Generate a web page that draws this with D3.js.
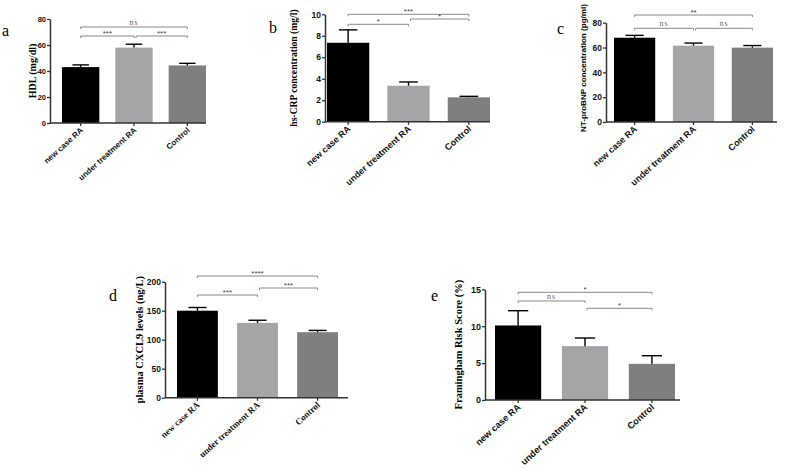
<!DOCTYPE html>
<html>
<head>
<meta charset="utf-8">
<script src="https://cdn.jsdelivr.net/npm/d3@7"></script>
<style>
body { margin: 0; background: #fff; }
svg { display: block; }
</style>
</head>
<body>
<svg width="789" height="470"></svg>
<script>
// data
var groups = ["new case RA", "under treatment RA", "Control"];

var hdlMean = [43, 58, 44.3], hdlErr = [1.7, 2.6, 1.6];
var crpMean = [7.35, 3.35, 2.27], crpErr = [1.2, 0.35, 0.09];
var bnpMean = [67.9, 61.5, 59.9], bnpErr = [1.9, 2.1, 1.7];
var cxclMean = [150, 129, 113], cxclErr = [5.5, 4.5, 3];
var frsMean = [10.1, 7.3, 4.9], frsErr = [2.0, 1.1, 1.1];

var hdlTicks = [0, 20, 40, 60, 80];
var crpTicks = [0, 2, 4, 6, 8, 10];
var bnpTicks = [0, 20, 40, 60, 80];
var cxclTicks = [0, 50, 100, 150, 200];
var frsTicks = [0, 5, 10, 15];

// significance brackets: from group, to group, label
var hdlSig = [[0, 2, "ns"], [0, 1, "***"], [1, 2, "***"]];
var crpSig = [[0, 2, "***"], [0, 1, "*"], [1, 2, "*"]];
var bnpSig = [[0, 2, "**"], [0, 1, "ns"], [1, 2, "ns"]];
var cxclSig = [[0, 2, "****"], [0, 1, "***"], [1, 2, "***"]];
var frsSig = [[0, 2, "*"], [0, 1, "ns"], [1, 2, "*"]];

var barColors = ["#000000", "#a5a5a8", "#7f7f7f"];
var SANS = "'Liberation Sans', Arial, sans-serif";
var SERIF = "'Liberation Serif', 'Times New Roman', serif";

var svg = d3.select("svg");

function drawPanel(p) {
  var g = svg.append("g");

  var x = d3.scaleBand().domain(groups).range([p.bandL, p.bandR])
    .paddingInner(p.pad).paddingOuter(0);
  var y = d3.scaleLinear().domain([0, p.max]).range([p.yBot, p.yTop]);

  // bars
  g.selectAll(".bar")
    .data(p.mean)
    .enter().append("rect")
    .attr("x", function(d, i) { return x(groups[i]); })
    .attr("y", function(d) { return y(d); })
    .attr("width", x.bandwidth())
    .attr("height", function(d) { return p.yBot - y(d); })
    .attr("fill", function(d, i) { return barColors[i]; });

  // error bars (upper only)
  var cap = x.bandwidth() * 0.22;
  p.mean.forEach(function(m, i) {
    var cx = x(groups[i]) + x.bandwidth() / 2;
    g.append("line").attr("x1", cx).attr("x2", cx)
      .attr("y1", y(m)).attr("y2", y(m + p.err[i]))
      .attr("stroke", "#000").attr("stroke-width", 1.4);
    g.append("line").attr("x1", cx - cap).attr("x2", cx + cap)
      .attr("y1", y(m + p.err[i])).attr("y2", y(m + p.err[i]))
      .attr("stroke", "#000").attr("stroke-width", 1.4);
  });

  // y axis
  var ya = g.append("g")
    .attr("transform", "translate(" + p.x0 + ",0)")
    .call(d3.axisLeft(y).tickValues(p.ticks).tickSize(3).tickSizeOuter(0).tickPadding(1));
  ya.select(".domain").attr("stroke", "#333").attr("stroke-width", 1.5);
  ya.selectAll(".tick line").attr("stroke", "#333").attr("stroke-width", 1.3);
  ya.selectAll("text")
    .style("font-family", SANS).style("font-weight", "bold")
    .style("font-size", p.tickFont + "px").attr("fill", "#111");

  // x axis
  var xa = g.append("g")
    .attr("transform", "translate(0," + p.yBot + ")")
    .call(d3.axisBottom(x).tickSize(3).tickSizeOuter(0));
  xa.select(".domain").remove();
  xa.append("line").attr("x1", p.x0).attr("x2", p.x1)
    .attr("stroke", "#333").attr("stroke-width", 1.5);
  xa.selectAll(".tick line").attr("stroke", "#333").attr("stroke-width", 1.3);
  xa.selectAll("text")
    .attr("y", 0).attr("dy", 0)
    .attr("transform", "translate(3,8) rotate(-42)")
    .style("text-anchor", "end")
    .style("font-family", p.xSerif ? SERIF : SANS)
    .style("font-weight", "bold")
    .style("font-size", p.xFont + "px")
    .attr("fill", "#111");

  // y label, centred on the axis unless told otherwise
  var ylabY = p.ylabY !== undefined ? p.ylabY : (p.yTop + p.yBot) / 2;
  g.append("text")
    .attr("transform", "translate(" + p.ylabX + "," + ylabY + ") rotate(-90)")
    .attr("text-anchor", "middle")
    .style("font-family", p.ylabSerif ? SERIF : SANS)
    .style("font-weight", "bold")
    .style("font-size", p.ylabFont + "px")
    .text(p.ylabel);

  // panel letter
  g.append("text")
    .attr("x", p.letX).attr("y", p.letY)
    .style("font-family", SERIF)
    .style("font-size", "16px")
    .text(p.letter);

  // significance brackets
  p.sig.forEach(function(s, k) {
    var xa0 = x(groups[s[0]]) + x.bandwidth() / 2 + (s[0] > 0 ? 2 : 0);
    var xb0 = x(groups[s[1]]) + x.bandwidth() / 2;
    var yy = p.sigY[k];
    g.append("path")
      .attr("d", "M" + xa0 + "," + (yy + 2) + "V" + yy + "H" + xb0 + "V" + (yy + 2))
      .attr("fill", "none").attr("stroke", "#8a8a8a").attr("stroke-width", 1);
    var isNs = s[2] === "ns";
    g.append("text")
      .attr("x", (xa0 + xb0) / 2).attr("y", yy - (isNs ? 2 : 0))
      .attr("text-anchor", "middle")
      .style("font-family", isNs ? SERIF : SANS)
      .style("font-size", "8px")
      .style("letter-spacing", isNs ? "1px" : "0px")
      .attr("fill", isNs ? "#666" : "#444")
      .text(s[2]);
  });
}

drawPanel({ mean: hdlMean, err: hdlErr, ticks: hdlTicks, max: 80, sig: hdlSig,
  x0: 50, x1: 206, bandL: 62, bandR: 206, pad: 0.3, yTop: 19, yBot: 123,
  sigY: [27, 36, 36], tickFont: 7.5, xFont: 8, xSerif: false,
  ylabel: "HDL (mg/dl)", ylabX: 36, ylabFont: 10, ylabSerif: true,
  letter: "a", letX: 2, letY: 36 });

drawPanel({ mean: crpMean, err: crpErr, ticks: crpTicks, max: 10, sig: crpSig,
  x0: 325, x1: 490, bandL: 327, bandR: 490, pad: 0.3, yTop: 14.3, yBot: 121.7,
  sigY: [14.3, 24.3, 19], tickFont: 8.5, xFont: 9, xSerif: false,
  ylabel: "hs-CRP concentration (mg/l)", ylabX: 297, ylabFont: 9.6, ylabSerif: true,
  letter: "b", letX: 269, letY: 33 });

drawPanel({ mean: bnpMean, err: bnpErr, ticks: bnpTicks, max: 80, sig: bnpSig,
  x0: 606, x1: 777, bandL: 614, bandR: 773, pad: 0.3, yTop: 22.7, yBot: 122,
  sigY: [15, 28.3, 28.3], tickFont: 8.5, xFont: 9, xSerif: false,
  ylabel: "NT-proBNP concentration (pg/ml)", ylabX: 586, ylabY: 68, ylabFont: 8.1, ylabSerif: false,
  letter: "c", letX: 557, letY: 34 });

drawPanel({ mean: cxclMean, err: cxclErr, ticks: cxclTicks, max: 200, sig: cxclSig,
  x0: 165, x1: 348, bandL: 177, bandR: 338, pad: 0.32, yTop: 281.7, yBot: 397.7,
  sigY: [276, 295, 288], tickFont: 8.5, xFont: 9, xSerif: true,
  ylabel: "plasma CXCL9 levels (ng/L)", ylabX: 143, ylabFont: 10.5, ylabSerif: true,
  letter: "d", letX: 109, letY: 301 });

drawPanel({ mean: frsMean, err: frsErr, ticks: frsTicks, max: 15, sig: frsSig,
  x0: 485, x1: 680, bandL: 495, bandR: 675, pad: 0.31, yTop: 289.3, yBot: 400,
  sigY: [292.3, 301, 308.3], tickFont: 9, xFont: 9.2, xSerif: false,
  ylabel: "Framingham Risk Score (%)", ylabX: 462, ylabFont: 10.5, ylabSerif: true,
  letter: "e", letX: 431, letY: 301 });
</script>
</body>
</html>
